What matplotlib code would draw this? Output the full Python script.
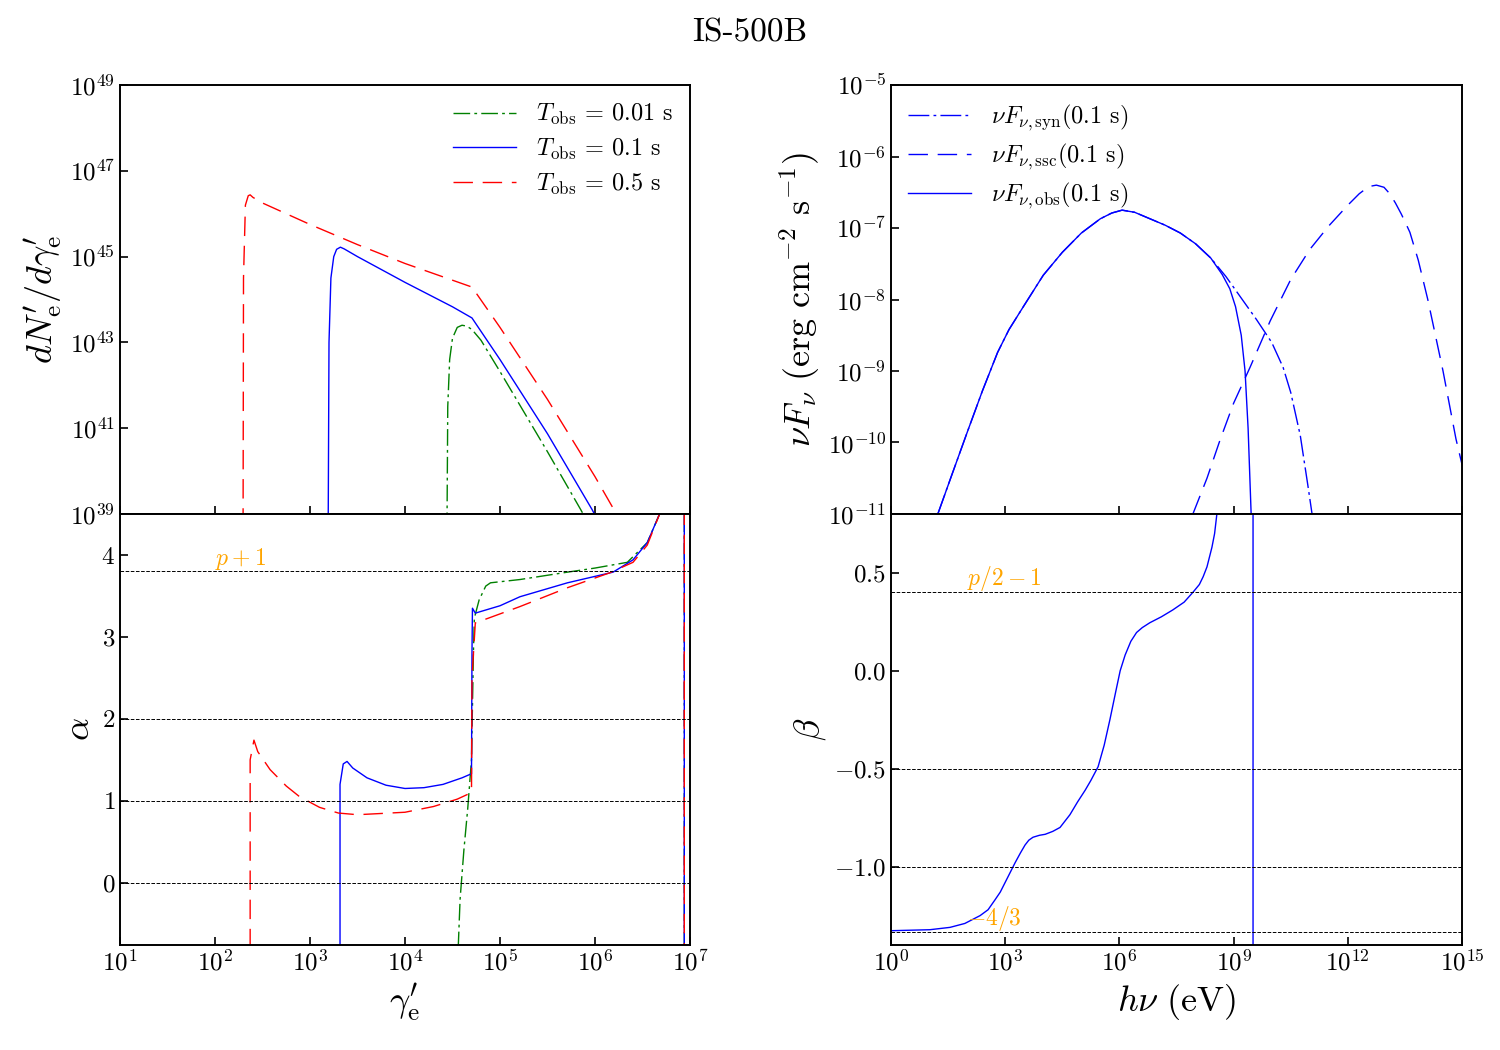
import numpy as np
import matplotlib
matplotlib.use('Agg')
from matplotlib import pyplot as plt
from matplotlib import ticker

plt.rcParams['font.family'] = 'serif'
plt.rcParams['font.serif'] = ['cmr10']
plt.rcParams['mathtext.fontset'] = 'cm'
plt.rcParams['axes.formatter.use_mathtext'] = True
plt.rcParams['axes.unicode_minus'] = False

# electron spectra, log10(gamma'_e) vs log10(dN/dgamma)
t_labels = ['0.01', '0.1', '0.5']
g_001 = [4.44, 4.45, 4.47, 4.5, 4.55, 4.6, 4.65, 4.705, 4.8, 5.0, 5.5, 5.85, 6.1]
n_001 = [38.0, 41.5, 42.6, 43.1, 43.35, 43.40, 43.38, 43.3, 43.05, 42.32, 40.45, 39.1, 38.1]
g_01 = [3.19, 3.20, 3.22, 3.25, 3.28, 3.32, 3.36, 3.5, 4.0, 4.5, 4.705, 5.0, 5.5, 5.97, 6.3]
n_01 = [38.0, 43.0, 44.5, 45.0, 45.17, 45.22, 45.18, 45.0, 44.4, 43.83, 43.57, 42.6, 40.87, 39.1, 37.7]
g_05 = [2.295, 2.30, 2.32, 2.35, 2.37, 2.40, 2.5, 3.0, 3.5, 4.0, 4.5, 4.705, 5.0, 5.5, 6.0, 6.21, 6.5]
n_05 = [38.0, 44.5, 46.2, 46.42, 46.44, 46.38, 46.25, 45.75, 45.28, 44.84, 44.45, 44.29, 43.35, 41.67, 39.87, 39.06, 37.8]

# local slope alpha
ga_001 = [4.56, 4.58, 4.62, 4.66, 4.70, 4.72, 4.73, 4.78, 4.85, 4.9, 5.21, 5.71, 6.0, 6.34, 6.55, 6.68, 6.75, 6.94, 6.94]
a_001 = [-0.8, -0.2, 0.4, 0.9, 1.5, 2.8, 3.23, 3.45, 3.62, 3.66, 3.70, 3.79, 3.84, 3.91, 4.15, 4.5, 4.8, 10.0, -1.0]
ga_01 = [3.316, 3.316, 3.35, 3.39, 3.45, 3.6, 3.8, 4.0, 4.2, 4.4, 4.6, 4.70, 4.705, 4.71, 4.74, 5.0, 5.21, 5.71, 6.19, 6.4, 6.55, 6.68, 6.75, 6.94, 6.94]
a_01 = [-0.8, 1.2, 1.45, 1.48, 1.40, 1.28, 1.19, 1.15, 1.16, 1.2, 1.28, 1.33, 2.8, 3.35, 3.29, 3.38, 3.49, 3.66, 3.79, 3.94, 4.15, 4.5, 4.8, 10.0, -1.0]
ga_05 = [2.37, 2.37, 2.41, 2.45, 2.58, 2.75, 2.89, 3.1, 3.3, 3.5, 4.0, 4.3, 4.55, 4.70, 4.705, 4.74, 5.21, 5.71, 6.15, 6.4, 6.55, 6.68, 6.75, 6.94, 6.94]
a_05 = [-0.8, 1.5, 1.74, 1.6, 1.38, 1.18, 1.05, 0.92, 0.85, 0.83, 0.86, 0.93, 1.02, 1.10, 2.5, 3.17, 3.37, 3.60, 3.78, 3.91, 4.12, 4.5, 4.8, 10.0, -1.0]

# photon spectra, log10(E/eV) vs log10(nuFnu)
e_syn = [1.23, 1.6, 2.0, 2.4, 2.8, 3.1, 3.5, 4.0, 4.5, 5.0, 5.5, 5.8, 6.07, 6.4, 6.8, 7.2, 7.6, 8.0, 8.4, 8.8, 9.2, 9.6, 10.0, 10.3, 10.5, 10.75, 10.95, 11.06, 11.15]
f_syn = [-11.0, -10.45, -9.86, -9.28, -8.74, -8.42, -8.08, -7.66, -7.34, -7.07, -6.87, -6.79, -6.75, -6.78, -6.87, -6.96, -7.07, -7.22, -7.42, -7.68, -7.98, -8.28, -8.6, -8.95, -9.3, -9.9, -10.6, -11.0, -11.5]
e_ssc = [7.93, 8.3, 8.64, 9.0, 9.43, 9.96, 10.5, 11.0, 11.5, 12.0, 12.3, 12.55, 12.75, 12.95, 13.1, 13.25, 13.4, 13.5, 13.63, 13.85, 14.1, 14.5, 14.84, 15.0]
f_ssc = [-11.0, -10.5, -9.97, -9.45, -8.95, -8.3, -7.72, -7.3, -6.97, -6.68, -6.52, -6.42, -6.40, -6.43, -6.52, -6.65, -6.8, -6.91, -7.06, -7.45, -8.0, -9.0, -9.95, -10.31]
e_obs = [1.23, 1.6, 2.0, 2.4, 2.8, 3.1, 3.5, 4.0, 4.5, 5.0, 5.5, 5.8, 6.07, 6.4, 6.8, 7.2, 7.6, 8.0, 8.4, 8.7, 8.9, 9.05, 9.2, 9.3, 9.38, 9.46, 9.5]
f_obs = [-11.0, -10.45, -9.86, -9.28, -8.74, -8.42, -8.08, -7.66, -7.34, -7.07, -6.87, -6.79, -6.75, -6.78, -6.87, -6.96, -7.07, -7.22, -7.42, -7.65, -7.85, -8.1, -8.5, -9.0, -9.8, -11.0, -11.6]

# photon index beta
e_beta = [0.0, 1.02, 1.55, 1.94, 2.34, 2.55, 2.73, 2.87, 3.0, 3.13, 3.26, 3.4, 3.52, 3.62, 3.73, 3.9, 4.05, 4.25, 4.44, 4.7, 4.9, 5.1, 5.25, 5.44, 5.6, 5.75, 5.9, 6.02, 6.15, 6.3, 6.45, 6.6, 6.8, 7.1, 7.4, 7.7, 7.93, 8.1, 8.2, 8.3, 8.43, 8.5, 8.56, 8.7, 9.51, 9.51]
beta = [-1.327, -1.322, -1.31, -1.29, -1.25, -1.22, -1.17, -1.13, -1.08, -1.03, -0.98, -0.93, -0.89, -0.865, -0.85, -0.84, -0.835, -0.82, -0.80, -0.735, -0.67, -0.61, -0.56, -0.49, -0.38, -0.25, -0.11, 0.0, 0.08, 0.15, 0.195, 0.22, 0.245, 0.275, 0.31, 0.35, 0.40, 0.44, 0.48, 0.53, 0.63, 0.70, 0.80, 1.5, 1.5, -1.5]

p = 2.8
alpha_lines = [p + 1, 2, 1, 0]
beta_lines = [p / 2 - 1, -0.5, -1.0, -4 / 3]

fig = plt.figure(figsize=(15, 10.5), dpi=100)
ax1 = fig.add_axes([0.08, 0.5105, 0.38, 0.4085])
ax2 = fig.add_axes([0.08, 0.1, 0.38, 0.4105], sharex=ax1)
ax3 = fig.add_axes([0.594, 0.5105, 0.3807, 0.4085])
ax4 = fig.add_axes([0.594, 0.1, 0.3807, 0.4105], sharex=ax3)

dashdot = (0, (12, 3, 2, 3))
dashed = (0, (14, 7))
styles = [('green', dashdot), ('blue', '-'), ('red', dashed)]
spec = [(g_001, n_001), (g_01, n_01), (g_05, n_05)]
slope = [(ga_001, a_001), (ga_01, a_01), (ga_05, a_05)]
for (c, ls), (g, n), (ga, a), t in zip(styles, spec, slope, t_labels):
    ax1.plot(10**np.array(g), 10**np.array(n), color=c, ls=ls, lw=1,
             label=r'$T_{\rm obs}$ = %s s' % t)
    ax2.plot(10**np.array(ga), a, color=c, ls=ls, lw=1)

ax1.set_xscale('log')
ax1.set_yscale('log')
ax1.set_xlim(1e1, 1e7)
ax1.set_ylim(1e39, 1e49)
ax1.set_yticks([10.0**k for k in range(39, 50, 2)])
ax1.set_ylabel(r"$dN^{\prime}_{\rm e}/d\gamma^{\prime}_{\rm e}$", fontsize=26)
ax1.legend(loc='upper right', frameon=False, fontsize=17.5, handlelength=2.6,
           borderaxespad=0.3, labelspacing=0.4)
plt.setp(ax1.get_xticklabels(), visible=False)

for y in alpha_lines:
    ax2.axhline(y, color='k', ls='--', lw=0.7)
ax2.text(1e2, 3.88, r'$p+1$', color='orange', fontsize=17)
ax2.set_ylim(-0.76, 4.5)
ax2.set_yticks([0, 1, 2, 3, 4])
ax2.set_xticks([10.0**k for k in range(1, 8)])
ax2.set_xlabel(r"$\gamma^{\prime}_{\rm e}$", fontsize=26)
ax2.set_ylabel(r'$\alpha$', fontsize=26)

ax3.plot(10**np.array(e_syn), 10**np.array(f_syn), color='blue', ls=(0, (15, 3, 2, 3)), lw=1,
         label=r'$\nu F_{\nu,{\rm syn}}(0.1$ s$)$')
ax3.plot(10**np.array(e_ssc), 10**np.array(f_ssc), color='blue', ls=dashed, lw=1,
         label=r'$\nu F_{\nu,{\rm ssc}}(0.1$ s$)$')
ax3.plot(10**np.array(e_obs), 10**np.array(f_obs), color='blue', ls='-', lw=1,
         label=r'$\nu F_{\nu,{\rm obs}}(0.1$ s$)$')
ax3.set_xscale('log')
ax3.set_yscale('log')
ax3.set_xlim(1e0, 1e15)
ax3.set_ylim(1e-11, 1e-5)
ax3.set_yticks([10.0**k for k in range(-11, -4)])
ax3.set_ylabel(r'$\nu F_\nu\ ({\rm erg\ cm^{-2}\ s^{-1}})$', fontsize=26)
ax3.legend(loc='upper left', frameon=False, fontsize=17.5, handlelength=2.6,
           borderaxespad=0.3, labelspacing=0.35)
plt.setp(ax3.get_xticklabels(), visible=False)

ax4.plot(10**np.array(e_beta), beta, color='blue', lw=1)
for y in beta_lines:
    ax4.axhline(y, color='k', ls='--', lw=0.7)
ax4.text(1e2, 0.44, r'$p/2-1$', color='orange', fontsize=17)
ax4.text(1e2, -1.3, r'$-4/3$', color='orange', fontsize=17, zorder=5)
ax4.set_ylim(-1.4, 0.8)
ax4.set_yticks([-1.0, -0.5, 0.0, 0.5])
ax4.yaxis.set_major_formatter(ticker.FormatStrFormatter(r'$%.1f$'))
ax4.set_xticks([10.0**k for k in range(0, 16, 3)])
ax4.set_xlabel(r'$h\nu\ ({\rm eV})$', fontsize=26)
ax4.set_ylabel(r'$\beta$', fontsize=26)

for ax in [ax1, ax2, ax3, ax4]:
    ax.xaxis.set_minor_locator(ticker.NullLocator())
    ax.yaxis.set_minor_locator(ticker.NullLocator())
    ax.tick_params(direction='in', length=6, width=1.2, labelsize=18, top=False, right=False)
    for s in ax.spines.values():
        s.set_linewidth(1.4)

fig.suptitle('IS-500B', fontsize=24, y=0.982)
fig.savefig('out.png', dpi=100)
